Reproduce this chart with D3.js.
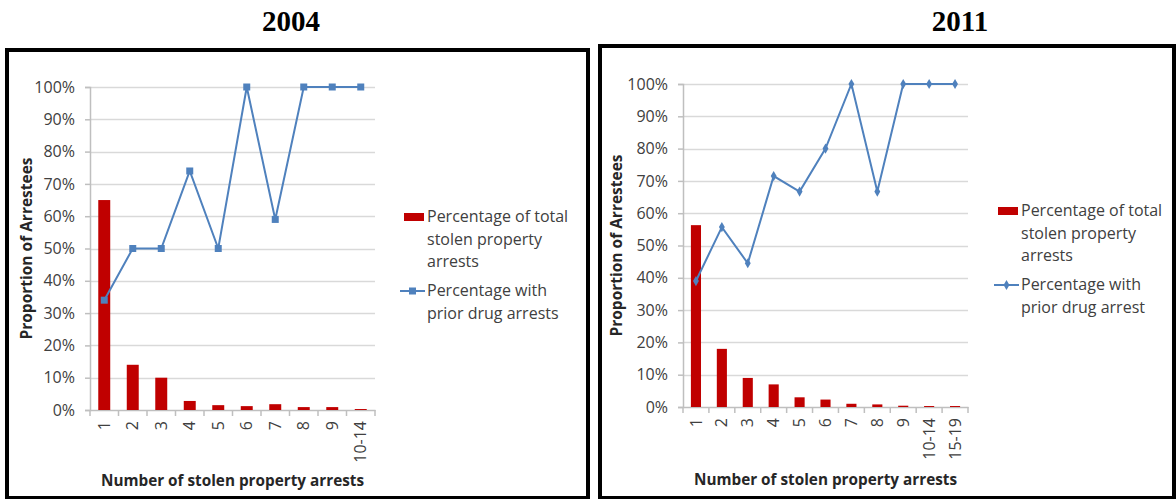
<!DOCTYPE html>
<html>
<head>
<meta charset="utf-8">
<script src="https://cdn.jsdelivr.net/npm/d3@7"></script>
<style>
  html, body { margin: 0; padding: 0; background: #fff; }
  svg { display: block; }
</style>
</head>
<body>
<svg id="chart" width="1176" height="499"></svg>
<script>
// ---------- data ----------
const categories2004 = ["1", "2", "3", "4", "5", "6", "7", "8", "9", "10-14"];
const totalPct2004 = [0.65, 0.14, 0.10, 0.028, 0.015, 0.012, 0.018, 0.009, 0.009, 0.003];
const drugPct2004 = [0.34, 0.50, 0.50, 0.74, 0.50, 1.00, 0.59, 1.00, 1.00, 1.00];

const categories2011 = ["1", "2", "3", "4", "5", "6", "7", "8", "9", "10-14", "15-19"];
const totalPct2011 = [0.563, 0.18, 0.09, 0.07, 0.03, 0.023, 0.01, 0.008, 0.004, 0.003, 0.003];
const drugPct2011 = [0.39, 0.557, 0.445, 0.715, 0.667, 0.80, 1.00, 0.667, 1.00, 1.00, 1.00];

const yTicks = [0, 0.1, 0.2, 0.3, 0.4, 0.5, 0.6, 0.7, 0.8, 0.9, 1.0];
const titles = ["2004", "2011"];
const legendBar = ["Percentage of total", "stolen property", "arrests"];
const legendLine2004 = ["Percentage with", "prior drug arrests"];
const legendLine2011 = ["Percentage with", "prior drug arrest"];
const xTitle = "Number of stolen property arrests";
const yTitle = "Proportion of Arrestees";

// ---------- style ----------
const RED = "#c00000", BLUE = "#4f81bd", GRID = "#d9d9d9", AXIS = "#bfbfbf", TXT = "#404040";
const FONT = "'Open Sans', 'Liberation Sans', sans-serif";

const svg = d3.select("#chart");

function panel(cfg) {
  const g = svg.append("g");
  // frame
  g.append("rect").attr("x", cfg.box[0]).attr("y", cfg.box[1])
    .attr("width", cfg.box[2]).attr("height", cfg.box[3])
    .attr("fill", "none").attr("stroke", "#000").attr("stroke-width", 4);
  // title
  svg.append("text").attr("x", cfg.titleX).attr("y", 31)
    .attr("text-anchor", "middle").attr("font-family", "'Liberation Serif', 'Times New Roman', serif")
    .attr("font-weight", "bold").attr("font-size", 29).attr("fill", "#000").text(cfg.title);

  const x = d3.scaleBand().domain(cfg.cats).range([cfg.x0, cfg.x1]).paddingInner(0).paddingOuter(0);
  const y = d3.scaleLinear().domain([0, 1]).range([cfg.y0, cfg.y1]);

  // gridlines
  g.append("g").selectAll("line").data(yTicks.slice(1)).join("line")
    .attr("x1", cfg.x0).attr("x2", cfg.x1)
    .attr("y1", d => Math.round(y(d)) + 0.5).attr("y2", d => Math.round(y(d)) + 0.5)
    .attr("stroke", GRID).attr("stroke-width", 1.5);

  // y axis
  const ya = g.append("g").attr("transform", `translate(${cfg.x0},0)`)
    .call(d3.axisLeft(y).tickValues(yTicks).tickFormat(d3.format(".0%")).tickSize(5).tickPadding(10));
  ya.select(".domain").attr("stroke", AXIS).attr("stroke-width", 1.5);
  ya.selectAll(".tick line").attr("stroke", AXIS).attr("stroke-width", 1.5);
  ya.selectAll(".tick text").attr("font-family", FONT).attr("font-size", 16).attr("fill", TXT);

  // x axis
  const xa = g.append("g").attr("transform", `translate(0,${cfg.y0})`)
    .call(d3.axisBottom(x).tickSize(0).tickFormat(""));
  xa.select(".domain").attr("stroke", AXIS).attr("stroke-width", 1.5);
  // category separators ticks
  g.append("g").selectAll("line").data(d3.range(cfg.cats.length + 1)).join("line")
    .attr("x1", i => cfg.x0 + i * x.step()).attr("x2", i => cfg.x0 + i * x.step())
    .attr("y1", cfg.y0).attr("y2", cfg.y0 + 6)
    .attr("stroke", AXIS).attr("stroke-width", 1.5);
  // x tick labels (rotated)
  g.append("g").selectAll("text").data(cfg.cats).join("text")
    .attr("transform", d => `translate(${x(d) + x.bandwidth() / 2},${cfg.y0 + 11}) rotate(-90)`)
    .attr("text-anchor", "end").attr("dy", "0.35em")
    .attr("font-family", FONT).attr("font-size", 16).attr("fill", TXT).text(d => d);

  // bars
  const bw = x.bandwidth() * cfg.barFrac;
  g.append("g").selectAll("rect").data(cfg.bars).join("rect")
    .attr("x", (d, i) => x(cfg.cats[i]) + (x.bandwidth() - bw) / 2)
    .attr("y", d => y(d)).attr("width", bw).attr("height", d => y(0) - y(d))
    .attr("fill", RED);

  // line
  const line = d3.line().x((d, i) => x(cfg.cats[i]) + x.bandwidth() / 2).y(d => y(d));
  g.append("path").datum(cfg.line).attr("d", line)
    .attr("fill", "none").attr("stroke", BLUE).attr("stroke-width", 2);
  const sym = d3.symbol().type(cfg.marker).size(cfg.markerSize);
  g.append("g").selectAll("path").data(cfg.line).join("path")
    .attr("transform", (d, i) => `translate(${x(cfg.cats[i]) + x.bandwidth() / 2},${y(d)})`)
    .attr("d", sym).attr("fill", BLUE);

  // axis titles
  g.append("text").attr("transform", `translate(${cfg.yTitleX},${(cfg.y0 + cfg.y1) / 2}) rotate(-90)`)
    .attr("text-anchor", "middle").attr("dy", "0.35em")
    .attr("font-family", FONT).attr("font-weight", "bold").attr("font-size", 15.5).attr("fill", "#262626")
    .text(yTitle);
  g.append("text").attr("x", (cfg.x0 + cfg.x1) / 2 - 0).attr("y", cfg.xTitleY)
    .attr("text-anchor", "middle")
    .attr("font-family", FONT).attr("font-weight", "bold").attr("font-size", 15.3).attr("fill", "#262626")
    .text(xTitle);

  // legend
  const L = cfg.legend;
  g.append("rect").attr("x", L.x).attr("y", L.y - 9).attr("width", 20).attr("height", 8).attr("fill", RED);
  g.append("g").selectAll("text").data(legendBar).join("text")
    .attr("x", L.x + 23).attr("y", (d, i) => L.y + i * 22.5)
    .attr("font-family", FONT).attr("font-size", 16).attr("fill", TXT).text(d => d);
  const ly = L.y + 2 * 22.5 + 29;
  g.append("line").attr("x1", L.x - 4).attr("x2", L.x + 21).attr("y1", ly - 5).attr("y2", ly - 5)
    .attr("stroke", BLUE).attr("stroke-width", 2);
  g.append("path").attr("transform", `translate(${L.x + 8.5},${ly - 5})`).attr("d", sym).attr("fill", BLUE);
  g.append("g").selectAll("text").data(cfg.legendLine).join("text")
    .attr("x", L.x + 23).attr("y", (d, i) => ly + i * 22.5)
    .attr("font-family", FONT).attr("font-size", 16).attr("fill", TXT).text(d => d);
}

panel({
  title: titles[0], titleX: 291, box: [7, 50, 581, 448],
  cats: categories2004, bars: totalPct2004, line: drugPct2004,
  x0: 90, x1: 375, y0: 410, y1: 87, barFrac: 0.42,
  marker: d3.symbolSquare, markerSize: 49,
  yTitleX: 27, xTitleY: 486,
  legend: { x: 404, y: 222 }, legendLine: legendLine2004
});

panel({
  title: titles[1], titleX: 960, box: [600, 46, 574, 452],
  cats: categories2011, bars: totalPct2011, line: drugPct2011,
  x0: 683, x1: 968, y0: 407, y1: 84, barFrac: 0.39,
  marker: d3.symbolDiamond, markerSize: 30,
  yTitleX: 617, xTitleY: 485,
  legend: { x: 998, y: 216 }, legendLine: legendLine2011
});
</script>
</body>
</html>
